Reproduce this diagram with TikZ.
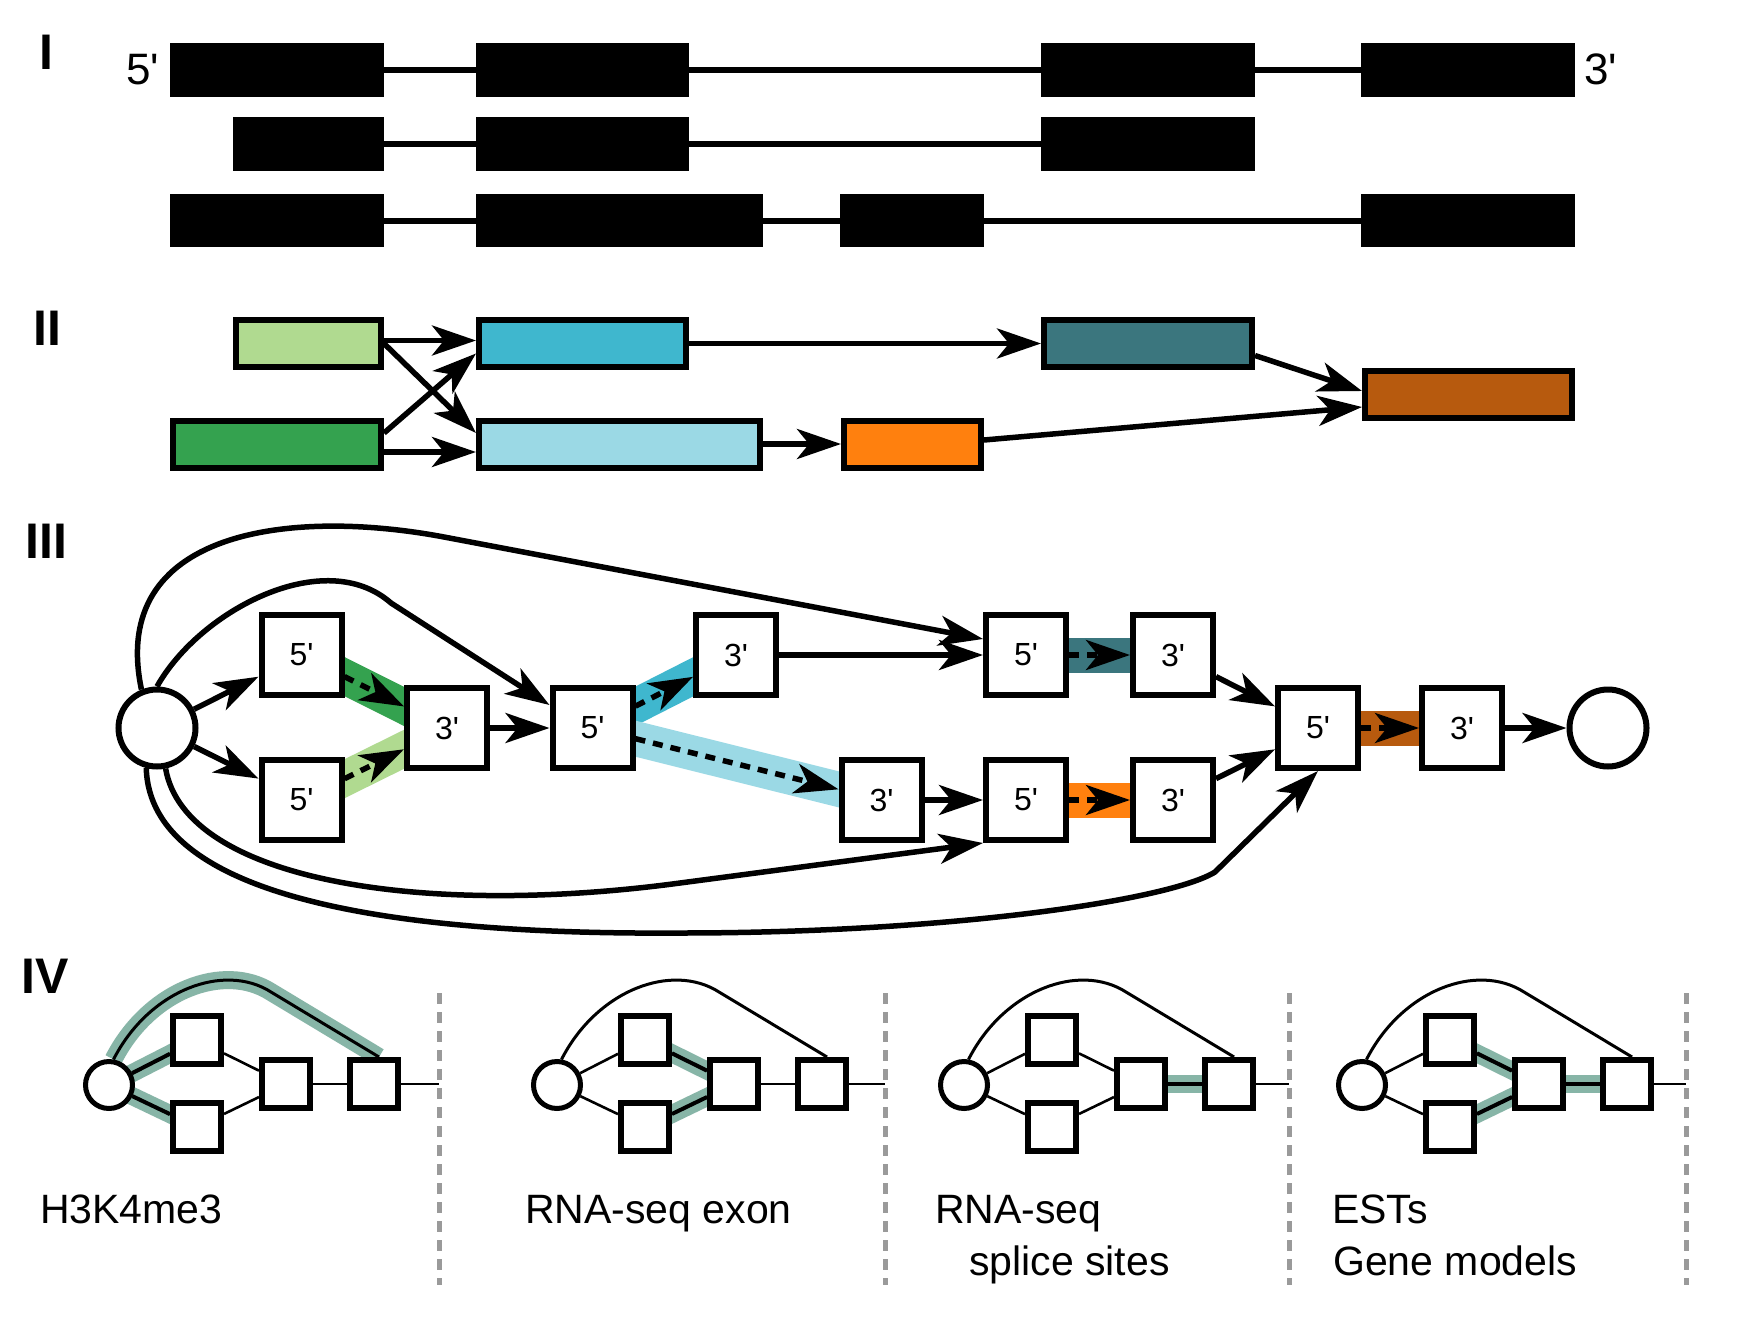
\documentclass[tikz,border=0pt]{standalone}
\usepackage{fontspec}
\newfontfamily\lsans{Liberation Sans}
\usetikzlibrary{arrows.meta,calc}
\pgfdeclarelayer{bg}
\pgfsetlayers{bg,main}
\definecolor{cLG}{HTML}{B0DA90}
\definecolor{cG}{HTML}{34A24F}
\definecolor{cCY}{HTML}{3FB7CE}
\definecolor{cTL}{HTML}{3B767E}
\definecolor{cLB}{HTML}{9BD9E5}
\definecolor{cOR}{HTML}{FF800E}
\definecolor{cBR}{HTML}{B75A0E}
\definecolor{cHL}{HTML}{87B5A7}
\definecolor{cDV}{HTML}{9A9A9A}
\newcommand\gpanel[3]{%
  \node[ciIV] (#1c) at (#2,1085) {};
  \node[sqIV] (#1a) at ({#2+88},1040) {};
  \node[sqIV] (#1b) at ({#2+88},1127) {};
  \node[sqIV] (#1d) at ({#2+177},1084) {};
  \node[sqIV] (#1e) at ({#2+265},1084) {};
  \coordinate (#1z) at (#3,1084);
  \draw[thinIV] (#1c) -- (#1a);
  \draw[thinIV] (#1c) -- (#1b);
  \draw[thinIV] (#1a) -- (#1d);
  \draw[thinIV] (#1b) -- (#1d);
  \draw[thinIV] (#1d) -- (#1e);
  \draw[thinIV] (#1e) -- (#1z);
}
\newcommand\garc[2]{%
  \draw[#2] (#1c.80) .. controls ($(#1c)+(40,-95)$) and ($(#1c)+(115,-123)$) .. ($(#1c)+(162,-93)$) -- ([xshift=5pt]#1e.north);
}
\begin{document}
\begin{tikzpicture}[x=1pt,y=-1pt, font=\lsans,
  ar/.style={line width=5.5pt,-{Stealth[length=44pt,width=30pt,inset=12pt]}},
  dar/.style={ar, dash pattern=on 10pt off 8pt},
  intron/.style={line width=6pt},
  boxII/.style={draw, line width=6pt, inner sep=0pt, minimum height=47pt},
  sqIII/.style={draw, line width=6pt, fill=white, inner sep=0pt, minimum size=80pt, font=\lsans\fontsize{32}{32}\selectfont},
  ciIII/.style={draw, circle, line width=6pt, fill=white, inner sep=0pt, minimum size=77pt},
  band/.style={line width=35pt},
  sqIV/.style={draw, line width=6pt, fill=white, inner sep=0pt, minimum size=48pt},
  ciIV/.style={draw, circle, line width=5pt, fill=white, inner sep=0pt, minimum size=47pt},
  thinIV/.style={line width=2.6pt},
  hiIV/.style={line width=4pt},
  hlIV/.style={line width=18pt, cHL},
  arcIV/.style={line width=3pt},
  divider/.style={line width=5pt, cDV, dash pattern=on 11pt off 8pt},
  roman/.style={anchor=base west, inner sep=0pt, font=\lsans\bfseries\fontsize{50}{50}\selectfont},
  lab/.style={anchor=base west, inner sep=0pt, font=\lsans\fontsize{41}{41}\selectfont},
  endlab/.style={anchor=base west, inner sep=0pt, font=\lsans\fontsize{44}{44}\selectfont},
]
\useasboundingbox (0,0) rectangle (1750,1340);
\begin{pgfonlayer}{bg}
\fill[white] (0,0) rectangle (1750,1340);
\end{pgfonlayer}

% ---------------- I ----------------
\node[roman] (rI) at (39,70) {I};
\node[roman] (rII) at (33,345) {II};
\node[roman] (rIII) at (25,558) {III};
\node[roman] (rIV) at (21,993) {IV};

\draw[intron] (384,69.7) -- (1361,69.7);
\draw[intron] (384,143.7) -- (1041,143.7);
\draw[intron] (384,220.8) -- (1361,220.8);
\fill (170,42.7) rectangle (384,96.7);
\fill (476,42.7) rectangle (689,96.7);
\fill (1041,42.7) rectangle (1255,96.7);
\fill (1361,42.7) rectangle (1575,96.7);
\fill (233,116.7) rectangle (384,170.7);
\fill (476,116.7) rectangle (689,170.7);
\fill (1041,116.7) rectangle (1255,170.7);
\fill (170,194.3) rectangle (384,247.3);
\fill (476,194.3) rectangle (763,247.3);
\fill (840,194.3) rectangle (984,247.3);
\fill (1361,194.3) rectangle (1575,247.3);
\node[endlab] (t5) at (126,85) {5'};
\node[endlab] (t3) at (1584,85) {3'};

% ---------------- II ----------------
\node[boxII, fill=cLG, minimum width=145pt] (lg) at (308.5,343.5) {};
\node[boxII, fill=cCY, minimum width=207pt] (cy) at (582.5,343.5) {};
\node[boxII, fill=cTL, minimum width=208pt] (tl) at (1148,343.5) {};
\node[boxII, fill=cG, minimum width=208pt] (gr) at (277,444) {};
\node[boxII, fill=cLB, minimum width=281pt] (lb) at (619.5,444) {};
\node[boxII, fill=cOR, minimum width=137pt] (orn) at (912.5,444) {};
\node[boxII, fill=cBR, minimum width=207pt] (brn) at (1468.5,394) {};

\draw[ar] ([yshift=3pt]lg.east) -- ([yshift=3pt]cy.west);
\draw[ar] (lg.east) -- ([yshift=11pt]lb.west);
\draw[ar] ([yshift=11pt]gr.east) -- ([yshift=-10pt]cy.west);
\draw[ar] ([yshift=-8pt]gr.east) -- ([yshift=-8pt]lb.west);
\draw[ar] (cy.east) -- (tl.west);
\draw[ar] ([yshift=-12pt]tl.east) -- ([yshift=3pt]brn.west);
\draw[ar] (lb.east) -- (orn.west);
\draw[ar] ([yshift=4pt]orn.east) -- ([yshift=-13pt]brn.west);

% ---------------- III ----------------
\node[ciIII] (src) at (157,728) {};
\node[sqIII] (A) at (301.5,655) {5'};
\node[sqIII] (B) at (301.5,800) {5'};
\node[sqIII] (C) at (447,728) {3'};
\node[sqIII] (D) at (592.5,728) {5'};
\node[sqIII] (E) at (736,655) {3'};
\node[sqIII] (F) at (881.5,800) {3'};
\node[sqIII] (G) at (1026,655) {5'};
\node[sqIII] (H) at (1173,655) {3'};
\node[sqIII] (I) at (1026,800) {5'};
\node[sqIII] (J) at (1173,800) {3'};
\node[sqIII] (K) at (1318,728) {5'};
\node[sqIII] (L) at (1462,728) {3'};
\node[ciIII] (snk) at (1608,728) {};

\begin{pgfonlayer}{bg}
\draw[band, cG] (A.center) -- (C.center);
\draw[band, cLG] (B.center) -- (C.center);
\draw[band, cCY] (D.center) -- (E.center);
\draw[band, cLB] (D.center) -- (F.center);
\draw[band, cTL] (G.center) -- (H.center);
\draw[band, cOR] (I.center) -- (J.center);
\draw[band, cBR] (K.center) -- (L.center);
\end{pgfonlayer}

\draw[ar] (src) -- (A);
\draw[ar] (src) -- (B);
\draw[ar] (C) -- (D);
\draw[ar] (E) -- (G);
\draw[ar] (F) -- (I);
\draw[ar] (H) -- (K);
\draw[ar] (J) -- (K);
\draw[ar] (L) -- (snk);
\draw[dar] (A) -- (C);
\draw[dar] (B) -- (C);
\draw[dar] (D) -- (E);
\draw[dar] (D) -- (F);
\draw[dar] (G) -- (H);
\draw[dar] (I) -- (J);
\draw[dar] (K) -- (L);

\draw[ar] (src.112) .. controls (108,530) and (290,508) .. (444,537) -- ([yshift=16pt]G.west);
\draw[ar] (src.90) .. controls (200,610) and (325,545) .. (391,603) -- ([yshift=23pt]D.west);
\draw[ar] (src.-78) .. controls (185,880) and (420,918) .. (680,883) -- (I.south west);
\draw[ar, line join=round] (src.-105) .. controls (150,900) and (400,935) .. (680,933) .. controls (950,933) and (1170,900) .. (1215,872) -- (K.south);

% ---------------- IV ----------------
\gpanel{pa}{109}{439}
\gpanel{pb}{557}{885}
\gpanel{pc}{964}{1289}
\gpanel{pd}{1362}{1686}
\garc{pa}{arcIV}
\garc{pb}{arcIV}
\garc{pc}{arcIV}
\garc{pd}{arcIV}

\begin{pgfonlayer}{bg}
\garc{pa}{hlIV}
\draw[hlIV] (pac.center) -- (paa.center);
\draw[hlIV] (pac.center) -- (pab.center);
\draw[hlIV] (pba.center) -- (pbd.center);
\draw[hlIV] (pbb.center) -- (pbd.center);
\draw[hlIV] (pcd.center) -- (pce.center);
\draw[hlIV] (pda.center) -- (pdd.center);
\draw[hlIV] (pdb.center) -- (pdd.center);
\draw[hlIV] (pdd.center) -- (pde.center);
\end{pgfonlayer}
\draw[hiIV] (pac) -- (paa);
\draw[hiIV] (pac) -- (pab);
\draw[hiIV] (pba) -- (pbd);
\draw[hiIV] (pbb) -- (pbd);
\draw[hiIV] (pcd) -- (pce);
\draw[hiIV] (pda) -- (pdd);
\draw[hiIV] (pdb) -- (pdd);
\draw[hiIV] (pdd) -- (pde);

\draw[divider] (439,993) -- (439,1285);
\draw[divider] (885,993) -- (885,1285);
\draw[divider] (1289,993) -- (1289,1285);
\draw[divider] (1686,993) -- (1686,1285);

\node[lab] (l1) at (40,1223) {H3K4me3};
\node[lab] (l2) at (525,1223) {RNA-seq exon};
\node[lab] (l3a) at (935,1223) {RNA-seq};
\node[lab] (l3b) at (969,1275) {splice sites};
\node[lab] (l4a) at (1332,1223) {ESTs};
\node[lab] (l4b) at (1333,1275) {Gene models};
\end{tikzpicture}
\end{document}
